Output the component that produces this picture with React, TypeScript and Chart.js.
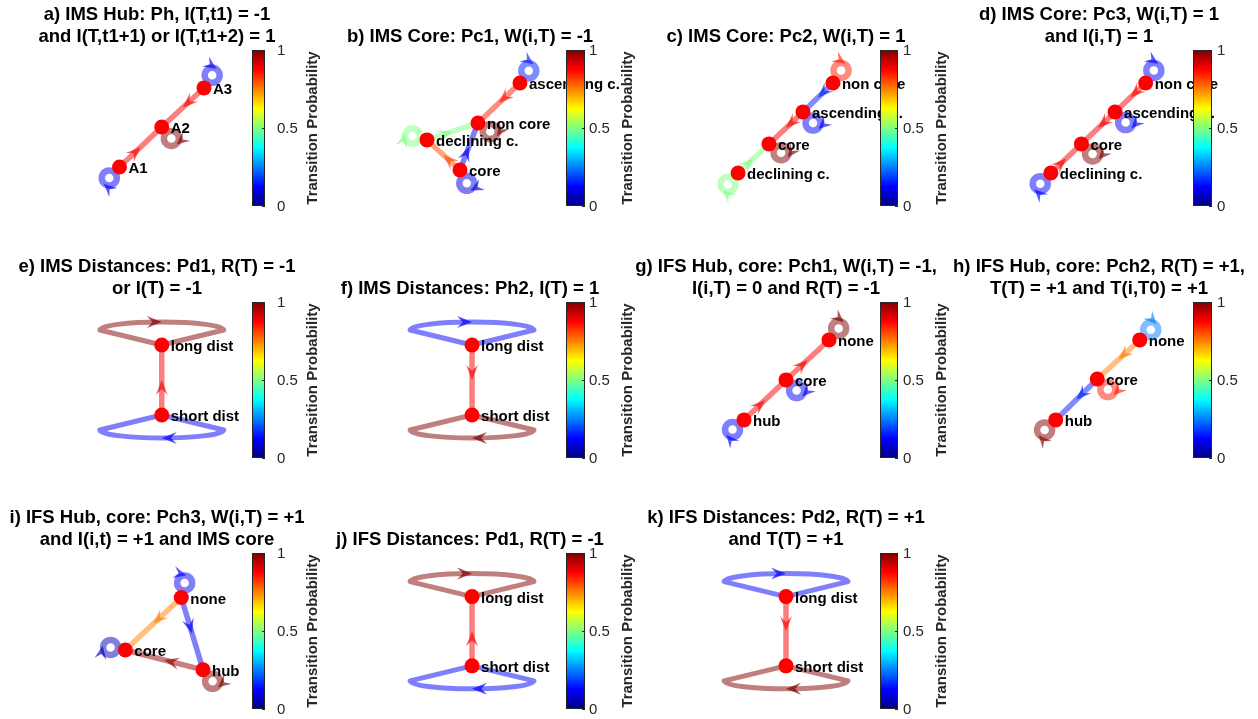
import React, { useEffect, useRef } from 'react';
import { Chart, registerables } from 'chart.js';

Chart.register(...registerables);

const W = 1258;
const H = 719;
const FONT = "'Liberation Sans', Arial, Helvetica, sans-serif";

// ---- colorbar ----
const cbTicks = [0, 0.5, 1];
const cbTickLabels = ['0', '0.5', '1'];
const cbLabel = 'Transition Probability';

// ---- panel a ----
const titleA = ['a) IMS Hub: Ph, I(T,t1) = -1', 'and I(T,t1+1) or I(T,t1+2) = 1'];
const nodesA = ['A1', 'A2', 'A3'];
const xA = [2.59, 5.12, 7.65];
const yA = [2.69, 5.19, 7.63];
const edgesA = [[0, 1, 0.88], [2, 1, 0.88]];
const loopsA = [[0, 0.12, -133], [1, 1.0, -50], [2, 0.12, 57]];

// ---- panel b ----
const titleB = ['b) IMS Core: Pc1, W(i,T) = -1'];
const nodesB = ['ascending c.', 'non core', 'declining c.', 'core'];
const xB = [7.94, 5.47, 2.47, 4.41];
const yB = [7.94, 5.44, 4.38, 2.5];
const edgesB = [[0, 1, 0.85], [2, 1, 0.5], [3, 2, 0.8], [3, 1, 0.1]];
const loopsB = [[0, 0.15, 54], [1, 1.0, -35], [2, 0.5, 165], [3, 0.1, -63]];

// ---- panel c ----
const titleC = ['c) IMS Core: Pc2, W(i,T) = 1'];
const nodesC = ['non core', 'ascending c.', 'core', 'declining c.'];
const xC = [7.76, 6.0, 4.0, 2.18];
const yC = [7.94, 6.13, 4.13, 2.31];
const edgesC = [[0, 1, 0.15], [1, 2, 0.88], [3, 2, 0.5]];
const loopsC = [[0, 0.85, 57], [1, 0.12, -48], [2, 1.0, -36], [3, 0.5, -132]];

// ---- panel d ----
const titleD = ['d) IMS Core: Pc3, W(i,T) = 1', 'and I(i,T) = 1'];
const nodesD = ['non core', 'ascending c.', 'core', 'declining c.'];
const xD = [7.88, 6.06, 4.06, 2.24];
const yD = [7.94, 6.13, 4.13, 2.31];
const edgesD = [[0, 1, 0.88], [1, 2, 0.88], [3, 2, 0.88]];
const loopsD = [[0, 0.12, 57], [1, 0.12, -45], [2, 1.0, -42], [3, 0.12, -135]];

// ---- panel e ----
const titleE = ['e) IMS Distances: Pd1, R(T) = -1', 'or I(T) = -1'];
const nodesE = ['long dist', 'short dist'];
const xE = [5.12, 5.12];
const yE = [7.31, 2.94];
const edgesE = [[1, 0, 0.88]];
const loopsE = [[0, 1.0, 90], [1, 0.12, -90]];

// ---- panel f ----
const titleF = ['f) IMS Distances: Ph2, I(T) = 1'];
const nodesF = ['long dist', 'short dist'];
const xF = [5.12, 5.12];
const yF = [7.31, 2.94];
const edgesF = [[0, 1, 0.88]];
const loopsF = [[0, 0.12, 90], [1, 1.0, -90]];

// ---- panel g ----
const titleG = ['g) IFS Hub, core: Pch1, W(i,T) = -1,', 'I(i,T) = 0 and R(T) = -1'];
const nodesG = ['none', 'core', 'hub'];
const xG = [7.53, 5.0, 2.53];
const yG = [7.63, 5.13, 2.63];
const edgesG = [[2, 1, 0.88], [1, 0, 0.88]];
const loopsG = [[0, 1.0, 50], [1, 0.12, -45], [2, 0.12, -140]];

// ---- panel h ----
const titleH = ['h) IFS Hub, core: Pch2, R(T) = +1,', 'T(T) = +1 and T(i,T0) = +1'];
const nodesH = ['none', 'core', 'hub'];
const xH = [7.53, 5.0, 2.53];
const yH = [7.63, 5.19, 2.63];
const edgesH = [[0, 1, 0.75], [1, 2, 0.15]];
const loopsH = [[0, 0.25, 43], [1, 0.85, -45], [2, 1.0, -138]];

// ---- panel i ----
const titleI = ['i) IFS Hub, core: Pch3, W(i,T) = +1', 'and I(i,t) = +1 and IMS core'];
const nodesI = ['none', 'core', 'hub'];
const xI = [6.29, 2.94, 7.59];
const yI = [7.19, 3.88, 2.63];
const edgesI = [[0, 1, 0.75], [0, 2, 0.12], [2, 1, 0.98]];
const loopsI = [[0, 0.12, 77], [1, 0.06, 170], [2, 1.0, -50]];

// ---- panel j ----
const titleJ = ['j) IFS Distances: Pd1, R(T) = -1'];
const nodesJ = ['long dist', 'short dist'];
const xJ = [5.12, 5.12];
const yJ = [7.25, 2.88];
const edgesJ = [[1, 0, 0.88]];
const loopsJ = [[0, 1.0, 90], [1, 0.12, -90]];

// ---- panel k ----
const titleK = ['k) IFS Distances: Pd2, R(T) = +1', 'and T(T) = +1'];
const nodesK = ['long dist', 'short dist'];
const xK = [5.0, 5.0];
const yK = [7.25, 2.88];
const edgesK = [[0, 1, 0.88]];
const loopsK = [[0, 0.12, 90], [1, 1.0, -90]];

type Panel = {
  title: string[];
  nodes: string[];
  x: number[];
  y: number[];
  edges: number[][];
  loops: number[][];
  band: boolean;
  row: number;
  col: number;
};

const PANELS: Panel[] = [
  { title: titleA, nodes: nodesA, x: xA, y: yA, edges: edgesA, loops: loopsA, band: false, row: 0, col: 0 },
  { title: titleB, nodes: nodesB, x: xB, y: yB, edges: edgesB, loops: loopsB, band: false, row: 0, col: 1 },
  { title: titleC, nodes: nodesC, x: xC, y: yC, edges: edgesC, loops: loopsC, band: false, row: 0, col: 2 },
  { title: titleD, nodes: nodesD, x: xD, y: yD, edges: edgesD, loops: loopsD, band: false, row: 0, col: 3 },
  { title: titleE, nodes: nodesE, x: xE, y: yE, edges: edgesE, loops: loopsE, band: true, row: 1, col: 0 },
  { title: titleF, nodes: nodesF, x: xF, y: yF, edges: edgesF, loops: loopsF, band: true, row: 1, col: 1 },
  { title: titleG, nodes: nodesG, x: xG, y: yG, edges: edgesG, loops: loopsG, band: false, row: 1, col: 2 },
  { title: titleH, nodes: nodesH, x: xH, y: yH, edges: edgesH, loops: loopsH, band: false, row: 1, col: 3 },
  { title: titleI, nodes: nodesI, x: xI, y: yI, edges: edgesI, loops: loopsI, band: false, row: 2, col: 0 },
  { title: titleJ, nodes: nodesJ, x: xJ, y: yJ, edges: edgesJ, loops: loopsJ, band: true, row: 2, col: 1 },
  { title: titleK, nodes: nodesK, x: xK, y: yK, edges: edgesK, loops: loopsK, band: true, row: 2, col: 2 },
];

// ---- layout (pixels) ----
const COL_CX = [157, 470, 786, 1099];
const ROW_TOP = [50, 302, 553];
const PLOT_W = 170;
const PLOT_H = 160;
const BOX_HALF = 155;
const TITLE_LH = 22;
const CB_OFF = [95, 96, 94, 94];
const CB_W = [13, 19, 18, 19];
const CB_H = 156;
const CB_TICK_GAP = [12, 4, 5, 5];
const CB_LABEL_OFF = [48, 43, 44, 60];

function jet(v: number): number[] {
  const c = (t: number) => Math.max(0, Math.min(1, t));
  return [
    c(1.5 - Math.abs(4 * v - 3)),
    c(1.5 - Math.abs(4 * v - 2)),
    c(1.5 - Math.abs(4 * v - 1)),
  ].map((t) => Math.round(t * 255));
}

function rgba(v: number, a: number): string {
  const [r, g, b] = jet(v);
  return `rgba(${r},${g},${b},${a})`;
}

function arrowHead(
  ctx: CanvasRenderingContext2D,
  x: number,
  y: number,
  dx: number,
  dy: number,
  len: number,
  half: number,
  color: string
) {
  const n = Math.hypot(dx, dy) || 1;
  const ux = dx / n;
  const uy = dy / n;
  const px = -uy;
  const py = ux;
  ctx.beginPath();
  ctx.moveTo(x, y);
  ctx.lineTo(x - ux * len + px * half, y - uy * len + py * half);
  ctx.lineTo(x - ux * len * 0.62, y - uy * len * 0.62);
  ctx.lineTo(x - ux * len - px * half, y - uy * len - py * half);
  ctx.closePath();
  ctx.fillStyle = color;
  ctx.fill();
}

function makePlugin(panel: Panel) {
  const pix = (chart: any, i: number) => [
    chart.scales.x.getPixelForValue(panel.x[i]),
    chart.scales.y.getPixelForValue(panel.y[i]),
  ];
  return {
    id: 'graphDecor',
    beforeDatasetsDraw(chart: any) {
      const ctx: CanvasRenderingContext2D = chart.ctx;
      ctx.save();
      for (const [n, prob, ang] of panel.loops) {
        const [X, Y] = pix(chart, n);
        ctx.strokeStyle = rgba(prob, 0.5);
        if (panel.band) {
          ctx.lineWidth = 5;
          const s = ang > 0 ? -1 : 1;
          const ey = Y + s * 15;
          ctx.beginPath();
          ctx.moveTo(X, Y);
          ctx.lineTo(X - 62, ey);
          if (s < 0) ctx.ellipse(X, ey, 62, 8, 0, Math.PI, 2 * Math.PI);
          else ctx.ellipse(X, ey, 62, 8, 0, Math.PI, 0, true);
          ctx.lineTo(X, Y);
          ctx.lineJoin = 'round';
          ctx.stroke();
          arrowHead(ctx, X, ey + s * 8, -s, 0, 15, 6, rgba(prob, 0.7));
        } else {
          ctx.lineWidth = 6.5;
          const a = (ang * Math.PI) / 180;
          const ux = Math.cos(a);
          const uy = -Math.sin(a);
          const cx = X + ux * 15;
          const cy = Y + uy * 15;
          ctx.beginPath();
          ctx.arc(cx, cy, 7.5, 0, 2 * Math.PI);
          ctx.stroke();
          arrowHead(ctx, cx + ux * 8, cy + uy * 8, -uy, ux, 13, 6, rgba(prob, 0.65));
        }
      }
      ctx.restore();
    },
    afterDatasetsDraw(chart: any) {
      const ctx: CanvasRenderingContext2D = chart.ctx;
      ctx.save();
      for (const [f, t, prob] of panel.edges) {
        const [x1, y1] = pix(chart, f);
        const [x2, y2] = pix(chart, t);
        arrowHead(ctx, (x1 + x2) / 2, (y1 + y2) / 2, x2 - x1, y2 - y1, 15, 6, rgba(prob, 0.65));
      }
      ctx.font = `bold 15px ${FONT}`;
      ctx.fillStyle = '#000';
      ctx.textAlign = 'left';
      ctx.textBaseline = 'middle';
      panel.nodes.forEach((name, i) => {
        const [X, Y] = pix(chart, i);
        ctx.fillText(name, X + 9, Y + 2);
      });
      ctx.restore();
    },
    afterDraw(chart: any) {
      const ctx: CanvasRenderingContext2D = chart.ctx;
      const col = panel.col;
      const left = COL_CX[col] + CB_OFF[col];
      const w = CB_W[col];
      const top = chart.chartArea.top;
      const bottom = top + CB_H;
      ctx.save();
      const grad = ctx.createLinearGradient(0, bottom, 0, top);
      const stops = [0, 0.125, 0.25, 0.375, 0.5, 0.625, 0.75, 0.875, 1];
      stops.forEach((s) => {
        const [r, g, b] = jet(s);
        grad.addColorStop(s, `rgb(${r},${g},${b})`);
      });
      ctx.fillStyle = grad;
      ctx.fillRect(left, top, w, CB_H);
      ctx.strokeStyle = '#262626';
      ctx.lineWidth = 1;
      ctx.strokeRect(left + 0.5, top + 0.5, w - 1, CB_H - 1);
      ctx.font = `15px ${FONT}`;
      ctx.fillStyle = '#262626';
      ctx.textAlign = 'left';
      ctx.textBaseline = 'middle';
      cbTicks.forEach((v, i) => {
        const y = bottom - v * CB_H;
        ctx.beginPath();
        ctx.moveTo(left + w - 3, Math.round(y) + 0.5);
        ctx.lineTo(left + w, Math.round(y) + 0.5);
        ctx.stroke();
        ctx.fillText(cbTickLabels[i], left + w + CB_TICK_GAP[col], y + 1);
      });
      ctx.translate(left + w + CB_LABEL_OFF[col], (top + bottom) / 2);
      ctx.rotate(-Math.PI / 2);
      ctx.font = `bold 15px ${FONT}`;
      ctx.textAlign = 'center';
      ctx.fillText(cbLabel, 0, 0);
      ctx.restore();
    },
  };
}

function PanelChart({ panel }: { panel: Panel }) {
  const ref = useRef<HTMLCanvasElement | null>(null);
  useEffect(() => {
    const canvas = ref.current;
    if (!canvas) return;
    const cx = COL_CX[panel.col];
    const top = ROW_TOP[panel.row];
    const nLines = panel.title.length;
    const extra = (BOX_HALF - PLOT_W / 2) / (PLOT_W / 10);
    const datasets: any[] = [
      {
        label: 'nodes',
        data: panel.x.map((x, i) => ({ x, y: panel.y[i] })),
        pointRadius: 7.5,
        pointHoverRadius: 7.5,
        backgroundColor: '#ff0000',
        borderWidth: 0,
        showLine: false,
        order: 0,
        clip: false,
      },
    ];
    panel.edges.forEach(([f, t, prob]) => {
      datasets.push({
        label: `${panel.nodes[f]} -> ${panel.nodes[t]}`,
        data: [
          { x: panel.x[f], y: panel.y[f] },
          { x: panel.x[t], y: panel.y[t] },
        ],
        showLine: true,
        borderColor: rgba(prob, 0.5),
        borderWidth: 5.5,
        pointRadius: 0,
        pointHoverRadius: 0,
        order: 1,
        clip: false,
      });
    });
    const chart = new Chart(canvas, {
      type: 'scatter',
      data: { datasets },
      options: {
        animation: false,
        responsive: false,
        devicePixelRatio: 1,
        events: [],
        layout: {
          padding: {
            left: cx - BOX_HALF,
            right: W - (cx + BOX_HALF),
            top: top - 2 - TITLE_LH * nLines,
            bottom: H - (top + PLOT_H),
          },
        },
        scales: {
          x: { type: 'linear', display: false, min: -extra, max: 10 + extra },
          y: { type: 'linear', display: false, min: 0, max: 10 },
        },
        plugins: {
          legend: { display: false },
          tooltip: { enabled: false },
          title: {
            display: true,
            text: panel.title,
            color: '#000',
            font: { family: FONT, size: 18.5, weight: 'bold', lineHeight: TITLE_LH / 18.5 },
            padding: { top: 0, bottom: 2 },
          },
        },
      },
      plugins: [makePlugin(panel)],
    } as any);
    return () => chart.destroy();
  }, [panel]);
  return (
    <canvas
      ref={ref}
      width={W}
      height={H}
      style={{ position: 'absolute', left: 0, top: 0, width: W, height: H }}
    />
  );
}

export default function App() {
  return (
    <div style={{ position: 'fixed', left: 0, top: 0, width: W, height: H, background: '#fff', overflow: 'hidden' }}>
      {PANELS.map((p, i) => (
        <PanelChart key={i} panel={p} />
      ))}
    </div>
  );
}
